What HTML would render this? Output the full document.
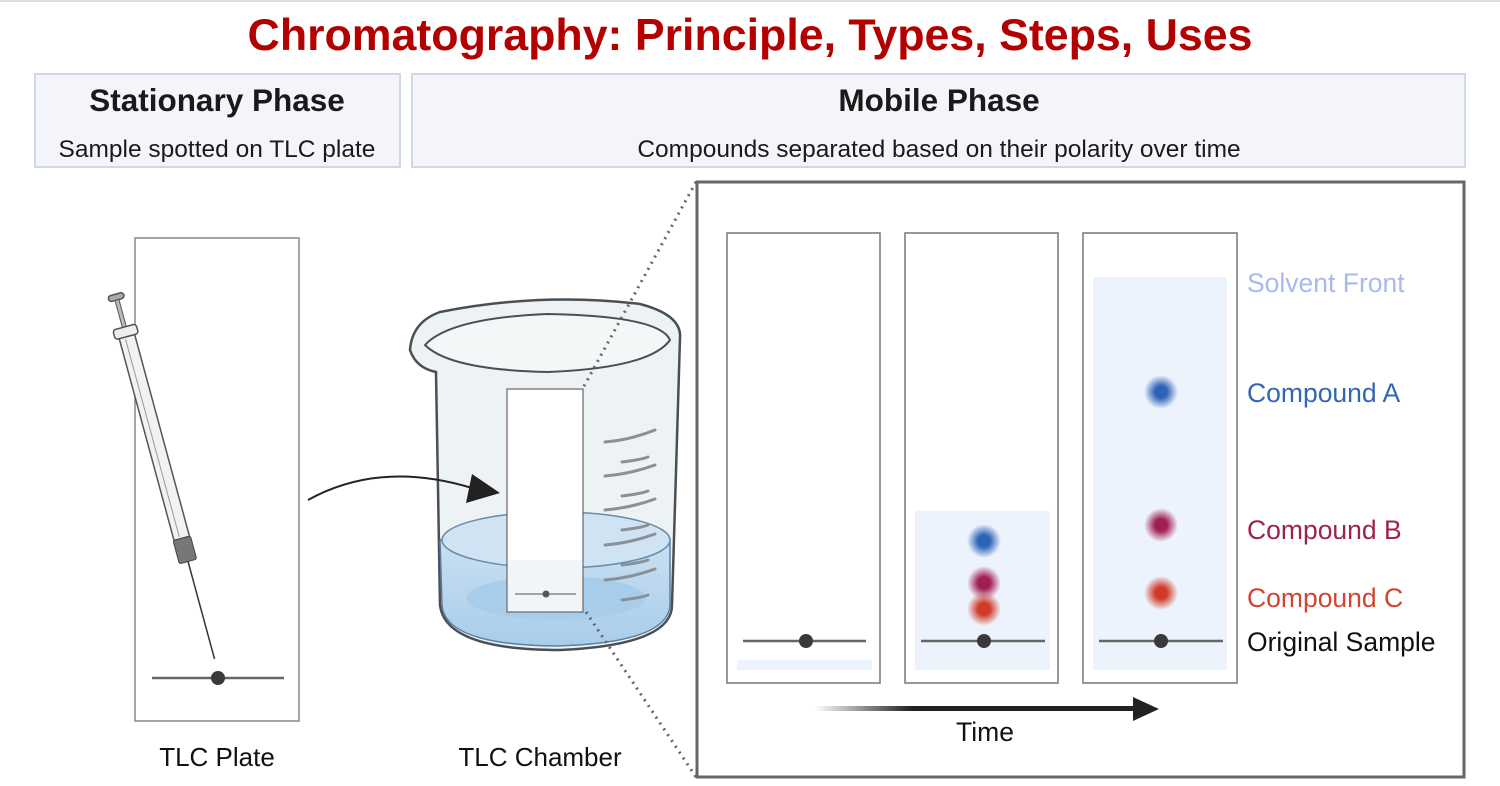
<!DOCTYPE html>
<html><head><meta charset="utf-8"><style>
body{margin:0;background:#fff;}
svg{display:block;font-family:"Liberation Sans",sans-serif;}
</style></head><body>
<svg width="1500" height="786" viewBox="0 0 1500 786">
<defs>
<radialGradient id="gb"><stop offset="0.35" stop-color="#2d63b8"/><stop offset="1" stop-color="#2d63b8" stop-opacity="0"/></radialGradient>
<radialGradient id="gm"><stop offset="0.35" stop-color="#a01e50"/><stop offset="1" stop-color="#a01e50" stop-opacity="0"/></radialGradient>
<radialGradient id="gr"><stop offset="0.35" stop-color="#d03a28"/><stop offset="1" stop-color="#d03a28" stop-opacity="0"/></radialGradient>
<linearGradient id="ta" x1="0" x2="1"><stop offset="0" stop-color="#222" stop-opacity="0"/><stop offset="0.3" stop-color="#222"/><stop offset="1" stop-color="#222"/></linearGradient>
<linearGradient id="water" x1="0" x2="0" y1="0" y2="1"><stop offset="0" stop-color="#cfe3f3"/><stop offset="1" stop-color="#a9cdea"/></linearGradient>
</defs>
<line x1="0" y1="1" x2="1500" y2="1" stroke="#ddd" stroke-width="2"/>
<text x="750" y="50" text-anchor="middle" font-size="44.7" font-weight="bold" fill="#b30000">Chromatography: Principle, Types, Steps, Uses</text>
<rect x="35" y="74" width="365" height="93" fill="#f3f5fa" stroke="#d0d7e5" stroke-width="2"/>
<text x="217" y="111" text-anchor="middle" font-size="31.5" font-weight="bold" fill="#1a1a1a">Stationary Phase</text>
<text x="217" y="157" text-anchor="middle" font-size="24.5" fill="#1a1a1a">Sample spotted on TLC plate</text>
<rect x="412" y="74" width="1053" height="93" fill="#f3f5fa" stroke="#d0d7e5" stroke-width="2"/>
<text x="939" y="111" text-anchor="middle" font-size="31.5" font-weight="bold" fill="#1a1a1a">Mobile Phase</text>
<text x="939" y="157" text-anchor="middle" font-size="24.5" fill="#1a1a1a">Compounds separated based on their polarity over time</text>

<rect x="135" y="238" width="164" height="483" fill="#fff" stroke="#888" stroke-width="1.5"/>
<line x1="152" y1="678" x2="284" y2="678" stroke="#666" stroke-width="2.5"/>
<circle cx="218" cy="678" r="7" fill="#3a3a3a"/>
<text x="217" y="766" text-anchor="middle" font-size="26" fill="#111">TLC Plate</text>
<g transform="translate(117,300) rotate(-15.2)">
<rect x="-8" y="-6" width="16" height="6" rx="3" fill="#aaa" stroke="#555" stroke-width="1.5"/>
<rect x="-2" y="0" width="4" height="28" fill="#bbb" stroke="#555" stroke-width="1"/>
<rect x="-12" y="28" width="24" height="10" rx="3" fill="#eee" stroke="#555" stroke-width="1.5"/>
<rect x="-8" y="38" width="16" height="209" fill="#f2f2f2" stroke="#555" stroke-width="1.5"/>
<line x1="-2" y1="40" x2="-2" y2="245" stroke="#999"/>
<rect x="-9" y="247" width="18" height="24" rx="2" fill="#777" stroke="#444"/>
<line x1="0" y1="271" x2="0" y2="372" stroke="#333" stroke-width="1.5"/>
</g>
<path d="M410,350 Q412,322 440,312 Q540,292 640,304 Q682,315 680,338 L672,605 Q672,645 560,650 Q445,650 440,605 L436,372 Q416,368 410,350 Z" fill="#edf2f4" stroke="#4a4f55" stroke-width="2.5"/>
<path d="M425,345 Q450,318 548,314 Q660,316 670,340 Q650,368 548,372 Q450,370 425,345 Z" fill="#f4f7f8" stroke="#4a4f55" stroke-width="2"/>
<path d="M440,540 Q555,500 670,540 L670,605 Q668,643 556,646 Q445,645 442,605 Z" fill="url(#water)" stroke="#5a7da0" stroke-width="1.5"/>
<ellipse cx="556" cy="540" rx="114" ry="28" fill="#cfe3f3" stroke="#6a8aa8" stroke-width="1.5"/>
<ellipse cx="556" cy="598" rx="90" ry="22" fill="#a8cdea"/>
<g stroke="#8a9096" stroke-width="3" stroke-linecap="round" fill="none">
<path d="M605,442 Q630,440 655,430"/><path d="M622,462 Q640,460 648,457"/>
<path d="M605,476 Q630,474 655,465"/><path d="M622,496 Q640,494 648,491"/>
<path d="M605,510 Q630,508 655,499"/><path d="M622,530 Q640,528 648,525"/>
<path d="M605,545 Q630,543 655,534"/><path d="M622,565 Q640,563 648,560"/>
<path d="M605,580 Q630,578 655,569"/><path d="M622,600 Q640,598 648,595"/>
</g>
<rect x="507" y="389" width="76" height="223" fill="#fff" stroke="#666" stroke-width="1.2"/>
<rect x="508" y="560" width="74" height="51" fill="#eef2f7" opacity="0.8"/>
<line x1="515" y1="594" x2="576" y2="594" stroke="#888" stroke-width="1.5"/>
<circle cx="546" cy="594" r="3.5" fill="#555"/>
<path d="M308,500 Q380,460 472,488" fill="none" stroke="#222" stroke-width="2"/>
<polygon points="500,493 472,474 466,503" fill="#222"/>
<text x="540" y="766" text-anchor="middle" font-size="26" fill="#111">TLC Chamber</text>
<line x1="696" y1="182" x2="583" y2="388" stroke="#666" stroke-width="3" stroke-dasharray="2,5"/>
<line x1="586" y1="612" x2="696" y2="777" stroke="#666" stroke-width="3" stroke-dasharray="2,5"/>
<rect x="697" y="182" width="767" height="595" fill="#fff" stroke="#666" stroke-width="3"/>
<rect x="727" y="233" width="153" height="450" fill="#fff" stroke="#777" stroke-width="1.5"/>
<rect x="737" y="660" width="135" height="10" fill="#edf3fd"/>
<line x1="743" y1="641" x2="866" y2="641" stroke="#666" stroke-width="2.5"/>
<circle cx="806" cy="641" r="7" fill="#3a3a3a"/>
<rect x="905" y="233" width="153" height="450" fill="#fff" stroke="#777" stroke-width="1.5"/>
<rect x="915" y="511" width="135" height="159" fill="#edf3fd"/>
<circle cx="984" cy="541" r="17" fill="url(#gb)"/>
<circle cx="984" cy="583" r="17" fill="url(#gm)"/>
<circle cx="984" cy="609" r="17" fill="url(#gr)"/>
<line x1="921" y1="641" x2="1045" y2="641" stroke="#666" stroke-width="2.5"/>
<circle cx="984" cy="641" r="7" fill="#3a3a3a"/>
<rect x="1083" y="233" width="154" height="450" fill="#fff" stroke="#777" stroke-width="1.5"/>
<rect x="1093" y="277" width="134" height="393" fill="#edf3fd"/>
<circle cx="1161" cy="392" r="17" fill="url(#gb)"/>
<circle cx="1161" cy="525" r="17" fill="url(#gm)"/>
<circle cx="1161" cy="593" r="17" fill="url(#gr)"/>
<line x1="1099" y1="641" x2="1223" y2="641" stroke="#666" stroke-width="2.5"/>
<circle cx="1161" cy="641" r="7" fill="#3a3a3a"/>
<g font-size="26.5">
<text x="1247" y="292" fill="#a9b9f0">Solvent Front</text>
<text x="1247" y="402" fill="#3566b0">Compound A</text>
<text x="1247" y="539" fill="#9c2350">Compound B</text>
<text x="1247" y="607" fill="#d04530">Compound C</text>
<text x="1247" y="651" fill="#111">Original Sample</text>
</g>
<rect x="815" y="706" width="320" height="5" fill="url(#ta)"/>
<polygon points="1133,697 1159,709 1133,721" fill="#222"/>
<text x="985" y="741" text-anchor="middle" font-size="26.5" fill="#111">Time</text>
</svg>
</body></html>
